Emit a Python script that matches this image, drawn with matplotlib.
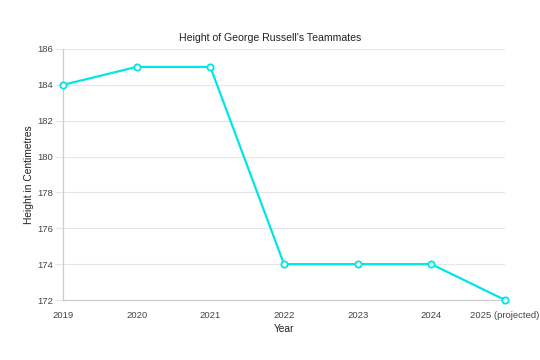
import matplotlib
matplotlib.use("Agg")
import matplotlib.pyplot as plt

plt.rcParams['font.family'] = ['Liberation Sans', 'DejaVu Sans']

years = ['2019', '2020', '2021', '2022', '2023', '2024', '2025 (projected)']
heights = [184, 185, 185, 174, 174, 174, 172]
y_ticks = [172, 174, 176, 178, 180, 182, 184, 186]

line_color = '#00e5e8'
grid_color = '#e6e6e6'

fig = plt.figure(figsize=(5.4, 3.6), dpi=100)
ax = fig.add_axes([63 / 540, 1 - 300 / 360, (505 - 63) / 540, (300 - 49) / 360])

x = list(range(len(years)))
ax.plot(x, heights, color=line_color, linewidth=1.6, marker='o', markersize=4.5,
        markerfacecolor='white', markeredgecolor=line_color, markeredgewidth=1.3,
        clip_on=False, zorder=3)

ax.set_xlim(0, len(years) - 1)
ax.set_ylim(172, 186)
ax.set_xticks(x)
ax.set_xticklabels(years)
ax.set_yticks(y_ticks)

ax.grid(axis='y', color=grid_color, linewidth=0.8)
ax.set_axisbelow(True)
for side in ['top', 'right']:
    ax.spines[side].set_visible(False)
for side in ['left', 'bottom']:
    ax.spines[side].set_color('#cccccc')
    ax.spines[side].set_linewidth(0.9)

ax.tick_params(axis='y', length=6, color=grid_color, labelsize=6.8, labelcolor='#444444', pad=1)
ax.tick_params(axis='x', length=0, labelsize=6.8, labelcolor='#444444', pad=8)

# title sits over the whole canvas, not the plot area
ax.set_title("Height of George Russell's Teammates", fontsize=7.6, color='#222222',
             x=(270 - 63) / 442, pad=6)
ax.set_xlabel('Year', fontsize=7.4, color='#222222', labelpad=3)
ax.set_ylabel('Height in Centimetres', fontsize=7.4, color='#222222', labelpad=2)

fig.savefig('out.png', dpi=100)
